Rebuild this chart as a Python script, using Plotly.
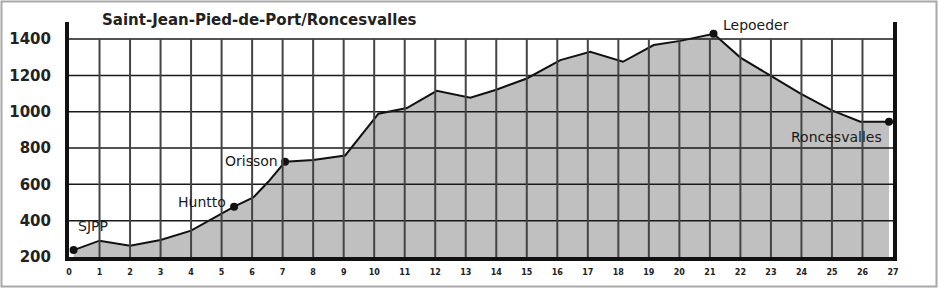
import plotly.graph_objects as go

# ---- data ----
km = [0.15, 1, 2, 3, 4, 5.41, 6.04, 6.53, 7.08, 8, 9.05, 10.14, 11.07, 12.05, 13.15,
      14.0, 15.0, 16.1, 17.08, 18.15, 19.16, 20.03, 21.12, 22.0, 23.0, 23.97, 25.0,
      25.93, 26.87]
elev = [238, 290, 262, 294, 345, 477, 528, 614, 724, 734, 759, 989, 1020, 1115, 1077,
        1121, 1183, 1284, 1330, 1275, 1367, 1390, 1429, 1298, 1197, 1100, 1007,
        945, 945]

place_names = ["SJPP", "Huntto", "Orisson", "Lepoeder", "Roncesvalles"]
place_km = [0.15, 5.41, 7.08, 21.12, 26.87]
place_elev = [238, 477, 724, 1429, 945]
label_dx = [19, -32, -34, 42, -53]
label_dy = [24, 5, 1, 9, -15]

x_ticks = list(range(0, 28))
y_ticks = [200, 400, 600, 800, 1000, 1200, 1400]
title_text = "Saint-Jean-Pied-de-Port/Roncesvalles"

fig = go.Figure()
fig.add_trace(go.Scatter(x=km, y=elev, mode="lines", fill="tozeroy",
                         fillcolor="#c0c0c0", line=dict(color="#111", width=2),
                         hoverinfo="skip"))
fig.add_trace(go.Scatter(x=place_km, y=place_elev, mode="markers",
                         marker=dict(color="#111", size=8), hoverinfo="skip"))

shapes = []
for yv in y_ticks[1:]:
    shapes.append(dict(type="line", xref="x", yref="y", x0=x_ticks[0], x1=x_ticks[-1],
                       y0=yv, y1=yv, line=dict(color="#1a1a1a", width=1.5), layer="above"))
for xv in x_ticks[1:-1]:
    shapes.append(dict(type="line", xref="x", yref="y", x0=xv, x1=xv,
                       y0=y_ticks[0], y1=y_ticks[-1], line=dict(color="#444", width=2),
                       layer="above"))
# outer frame
shapes.append(dict(type="rect", xref="paper", yref="paper",
                   x0=(1.5 - 69) / 824, x1=(936.5 - 69) / 824,
                   y0=(257 - 286.5) / 235, y1=(257 - 1.5) / 235,
                   line=dict(color="#a8a8a8", width=2), layer="above"))

annotations = []
for n, xv, yv, dx, dy in zip(place_names, place_km, place_elev, label_dx, label_dy):
    annotations.append(dict(x=xv, y=yv, xref="x", yref="y", text=n, showarrow=False,
                            xanchor="center", yanchor="middle", xshift=dx, yshift=dy,
                            font=dict(family="DejaVu Sans", size=14, color="#1a1a1a")))
annotations.append(dict(x=(100 - 69) / 824, y=(257 - 20) / 235, xref="paper", yref="paper",
                        text="<b>" + title_text + "</b>", showarrow=False,
                        xanchor="left", yanchor="middle",
                        font=dict(family="DejaVu Sans", size=15, color="#222")))

fig.update_layout(
    width=939, height=288,
    margin=dict(l=69, r=46, t=22, b=31, autoexpand=False),
    paper_bgcolor="white", plot_bgcolor="white",
    showlegend=False,
    shapes=shapes, annotations=annotations,
    xaxis=dict(range=[0, 27], tickvals=x_ticks, ticktext=[f"<b>{v}</b>" for v in x_ticks],
               showgrid=False, zeroline=False, showline=True, linecolor="#111",
               linewidth=4, ticks="", ticklabelstandoff=4, automargin=False,
               tickfont=dict(family="DejaVu Sans", size=8, color="#222"),
               fixedrange=True),
    yaxis=dict(range=[200, 1494], tickvals=y_ticks, ticktext=[f"<b>{v}</b>" for v in y_ticks],
               showgrid=False, zeroline=False, showline=True, mirror=True,
               linecolor="#111", linewidth=4, ticks="", ticklabelstandoff=11,
               automargin=False,
               tickfont=dict(family="DejaVu Sans", size=15, color="#222"),
               fixedrange=True),
)

fig.write_html("out.html")
